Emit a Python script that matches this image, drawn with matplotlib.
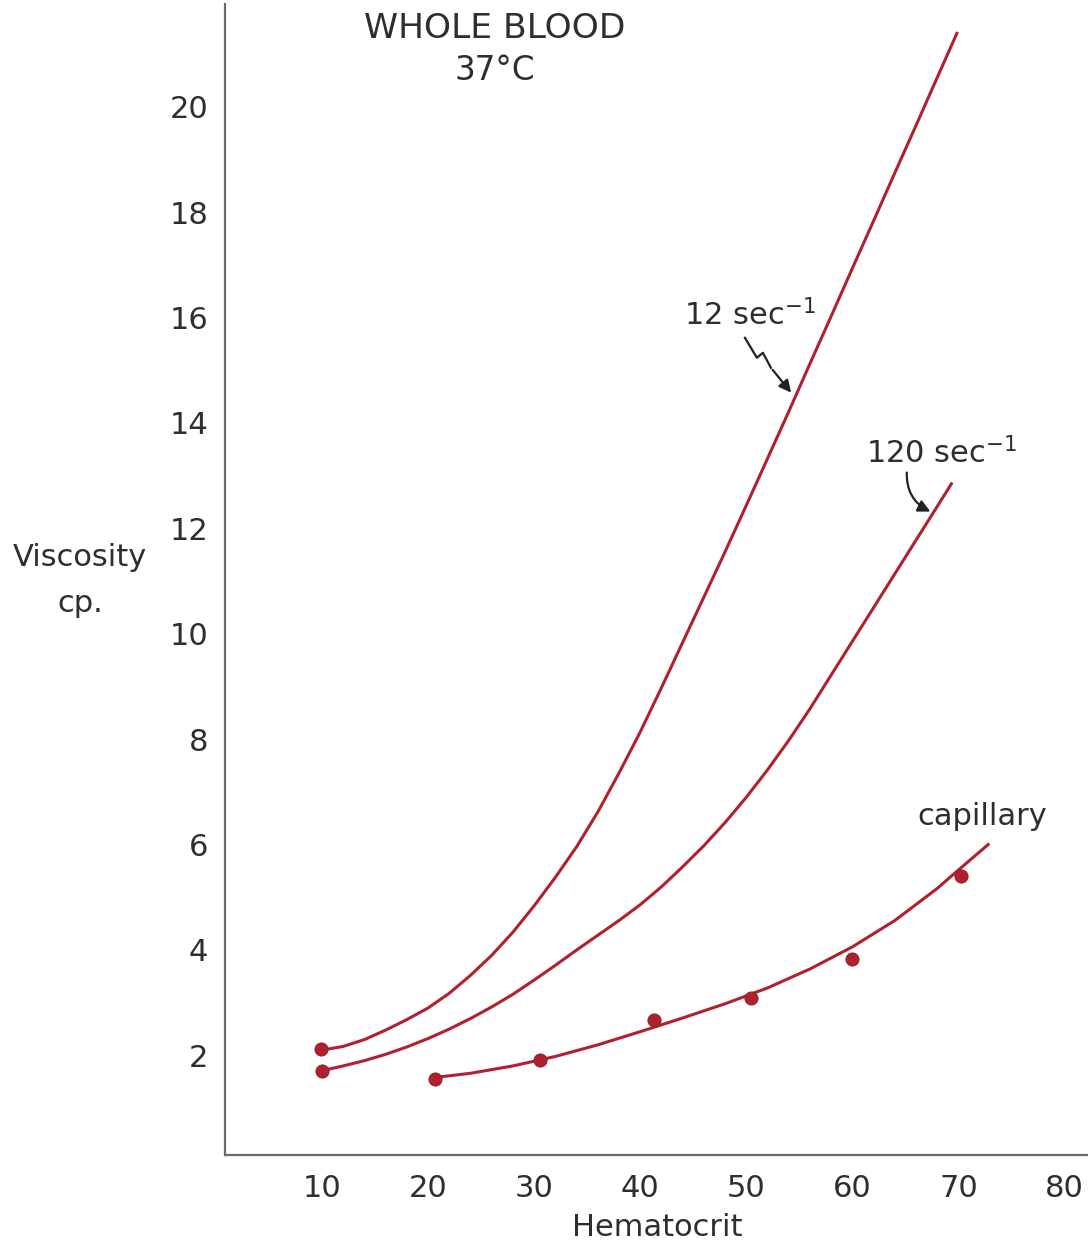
import matplotlib
matplotlib.use("Agg")
import matplotlib.pyplot as plt

plt.rcParams['font.family'] = ['DejaVu Sans']
plt.rcParams['mathtext.fontset'] = 'dejavusans'

# ---- data ----
hct_12 = [10, 12, 14, 16, 18, 20, 22, 24, 26, 28, 30, 32, 34, 36, 38, 40,
          42, 44, 46, 48, 50, 52, 54, 56, 58, 60, 62, 64, 66, 68, 69.9]
visc_12 = [2.10, 2.17, 2.30, 2.48, 2.68, 2.90, 3.18, 3.52, 3.90, 4.34, 4.84, 5.38,
           5.96, 6.62, 7.36, 8.14, 8.98, 9.84, 10.70, 11.56, 12.44, 13.33, 14.22,
           15.13, 16.03, 16.94, 17.84, 18.75, 19.65, 20.56, 21.42]

hct_120 = [10, 12, 14, 16, 18, 20, 22, 24, 26, 28, 30, 32, 34, 36, 38, 40,
           42, 44, 46, 48, 50, 52, 54, 56, 58, 60, 62, 64, 66, 68, 69.4]
visc_120 = [1.71, 1.80, 1.90, 2.02, 2.16, 2.32, 2.50, 2.70, 2.92, 3.16, 3.43, 3.71,
            4.00, 4.28, 4.56, 4.86, 5.20, 5.58, 5.98, 6.42, 6.90, 7.42, 7.98, 8.58,
            9.22, 9.86, 10.50, 11.14, 11.78, 12.42, 12.87]

hct_cap_line = [20.6, 24, 28, 32, 36, 40, 44, 48, 52, 56, 60, 64, 68, 70, 72.9]
visc_cap_line = [1.58, 1.66, 1.80, 1.98, 2.20, 2.45, 2.71, 2.98, 3.28, 3.64, 4.06,
                 4.56, 5.17, 5.52, 6.02]

hct_cap_pts = [20.6, 30.5, 41.3, 50.4, 60.0, 70.2]
visc_cap_pts = [1.56, 1.92, 2.68, 3.09, 3.83, 5.41]

start_hct = [9.9, 10.0]
start_visc = [2.12, 1.71]

x_ticks = [10, 20, 30, 40, 50, 60, 70, 80]
y_ticks = [2, 4, 6, 8, 10, 12, 14, 16, 18, 20]

RED = '#b1202f'
TXT = '#2e2e2e'
AX = '#6a6a6a'
FS = 22

fig = plt.figure(figsize=(10.88, 12.47), dpi=100)
ax = fig.add_axes([0.2068, 0.0738, 0.7932, 0.923])
ax.set_xlim(0.85, 82.2)
ax.set_ylim(0.11, 21.95)

for xs, ys in [(hct_12, visc_12), (hct_120, visc_120), (hct_cap_line, visc_cap_line)]:
    ax.plot(xs, ys, color=RED, lw=2.2, solid_capstyle='butt', solid_joinstyle='round')
ax.plot(hct_cap_pts, visc_cap_pts, 'o', color=RED, ms=9.5, mec='#8a1a25', mew=0.6)
ax.plot(start_hct, start_visc, 'o', color=RED, ms=9.5, mec='#8a1a25', mew=0.6)

for s in ['top', 'right']:
    ax.spines[s].set_visible(False)
for s in ['left', 'bottom']:
    ax.spines[s].set_color(AX)
    ax.spines[s].set_linewidth(1.6)

ax.set_xticks(x_ticks)
ax.set_yticks(y_ticks)
ax.tick_params(length=0, labelsize=FS, colors=TXT, pad=14)
ax.tick_params(axis='y', pad=12)

fig.text(80 / 1088, 1 - 558 / 1247, 'Viscosity', ha='center', va='center', fontsize=FS, color=TXT)
fig.text(80 / 1088, 1 - 603 / 1247, 'cp.', ha='center', va='center', fontsize=FS, color=TXT)
fig.text(657 / 1088, 1 - 1228 / 1247, 'Hematocrit', ha='center', va='center', fontsize=FS, color=TXT)
fig.text(495 / 1088, 1 - 29 / 1247, 'WHOLE BLOOD', ha='center', va='center', fontsize=24.8, color=TXT)
fig.text(495 / 1088, 1 - 71 / 1247, '37°C', ha='center', va='center', fontsize=23.5, color=TXT)


def d(px, py):
    return ((px - 216) / 10.61, (1161 - py) / 52.7)


tx, ty = d(750, 315)
ax.text(tx, ty, r'12 sec$^{-1}$', ha='center', va='center', fontsize=FS, color=TXT)
tx, ty = d(942, 453)
ax.text(tx, ty, r'120 sec$^{-1}$', ha='center', va='center', fontsize=FS, color=TXT)
tx, ty = d(982, 817)
ax.text(tx, ty, 'capillary', ha='center', va='center', fontsize=FS, color=TXT)

# squiggly arrow for 12 sec^-1
sq = [d(745, 338), d(757, 358), d(763, 353), d(771, 368)]
ax.plot([p[0] for p in sq], [p[1] for p in sq], color='#222222', lw=1.6)
ax.annotate('', xy=d(793, 395), xytext=d(771, 368),
            arrowprops=dict(arrowstyle='-|>', color='#222222', lw=1.6, mutation_scale=18))
# curved arrow for 120 sec^-1
ax.annotate('', xy=d(933, 513), xytext=d(907, 470),
            arrowprops=dict(arrowstyle='-|>', color='#222222', lw=1.6, mutation_scale=18,
                            connectionstyle='arc3,rad=0.35'))

fig.savefig('out.png', dpi=100, facecolor='white')
